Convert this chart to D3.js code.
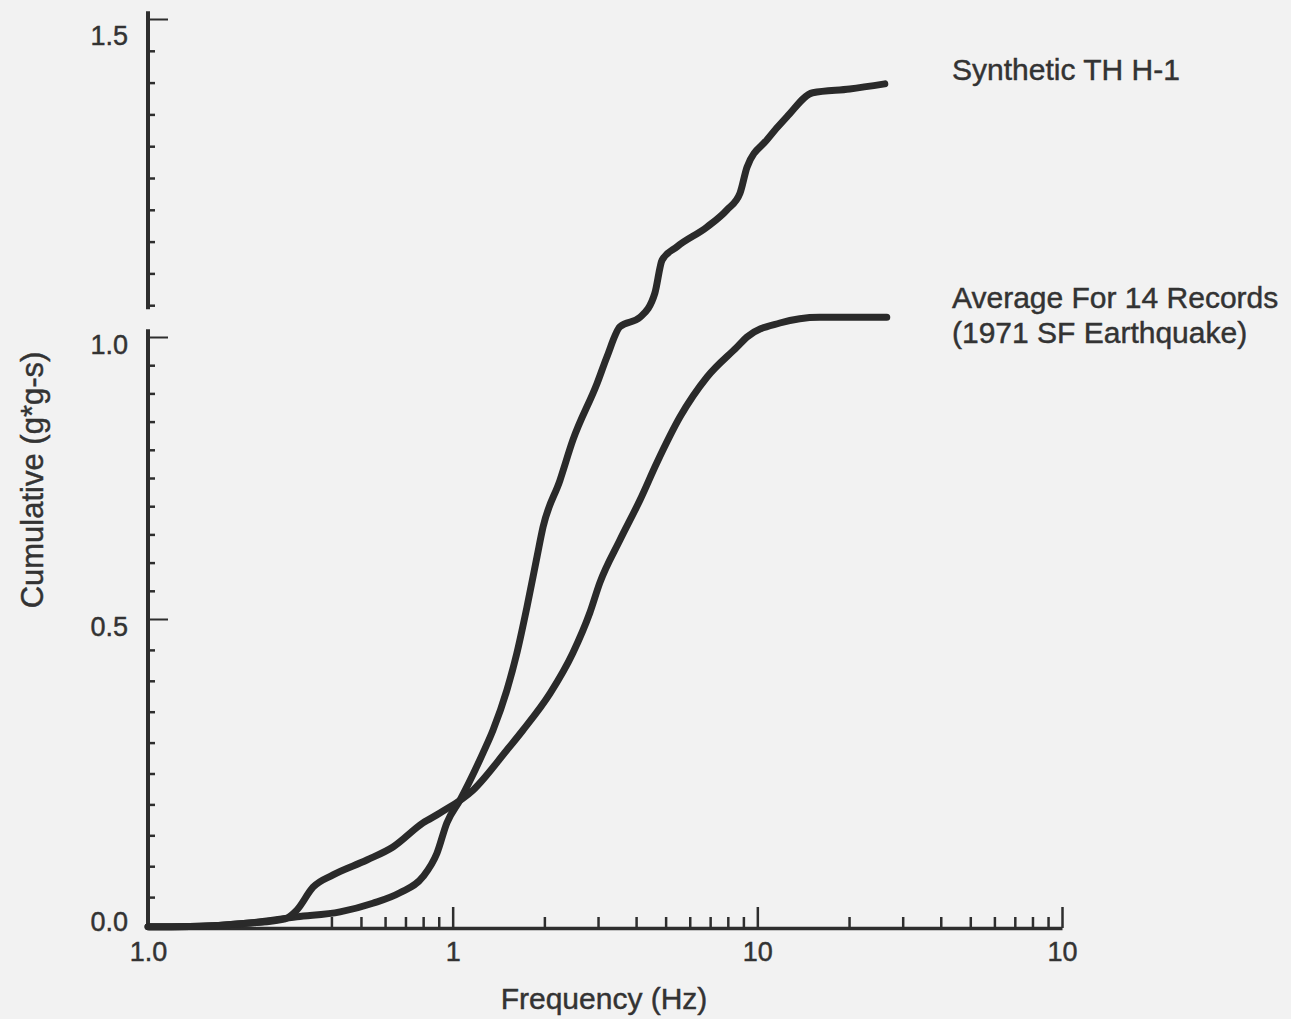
<!DOCTYPE html>
<html lang="en">
<head>
    <meta charset="UTF-8">
    <script src="https://d3js.org/d3.v7.min.js"></script>
    <title>Cumulative</title>
    <style>
        body { margin: 0; background: #f2f2f2; }
        text { font-family: "Liberation Sans", Arial, sans-serif; fill: #333; stroke: #333; stroke-width: 0.45px; }
    </style>
</head>
<body>
<div id="viz"></div>
<script>
    // data: [frequency (Hz), cumulative (g*g-s)]
    const synthetic = [
        [0.1, 0.002], [0.148, 0.003], [0.216, 0.008], [0.308, 0.018], [0.427, 0.026],
        [0.547, 0.040], [0.671, 0.057], [0.799, 0.083], [0.888, 0.121], [0.957, 0.170],
        [1.057, 0.207], [1.257, 0.283], [1.356, 0.320], [1.507, 0.385], [1.625, 0.445],
        [1.753, 0.521], [1.891, 0.610], [1.98, 0.663], [2.25, 0.746], [2.48, 0.817],
        [2.98, 0.918], [3.21, 0.965], [3.54, 1.016], [4.12, 1.031], [4.61, 1.069],
        [4.87, 1.121], [5.45, 1.142], [6.84, 1.173], [7.95, 1.200], [8.77, 1.226],
        [9.25, 1.267], [10.75, 1.310], [12.5, 1.346], [15.2, 1.384], [20.1, 1.390],
        [26.2, 1.398]
    ];
    const average = [
        [0.1, 0.002], [0.148, 0.003], [0.216, 0.008], [0.282, 0.015], [0.308, 0.029],
        [0.348, 0.066], [0.405, 0.086], [0.523, 0.110], [0.637, 0.131], [0.799, 0.170],
        [0.908, 0.186], [1.166, 0.223], [1.507, 0.288], [1.70, 0.320], [2.09, 0.380],
        [2.48, 0.445], [2.82, 0.511], [3.04, 0.564], [3.54, 0.640], [4.12, 0.711],
        [4.68, 0.777], [5.57, 0.858], [6.84, 0.929], [8.57, 0.982], [9.25, 1.000],
        [11.86, 1.022], [16.0, 1.031], [26.6, 1.031]
    ];

    const xMajor = [0.1, 1, 10, 100];
    const xTickLabels = ["1.0", "1", "10", "10"];   // as printed on the original
    const xMinor = [2, 3, 4, 5, 6, 7, 8, 9, 20, 30, 40, 50, 60, 70, 80, 90, 0.4, 0.5, 0.6, 0.7, 0.8, 0.9];
    const yMajor = [0, 0.5, 1.0, 1.5];
    const yTickLabels = ["0.0", "0.5", "1.0", "1.5"];
    const yMinor = d3.range(1, 30).map(i => i * 0.05).filter(v => Math.abs(v % 0.5) > 0.01 && Math.abs(v % 0.5 - 0.5) > 0.01);

    const width = 1291, height = 1019;

    const svg = d3.select("#viz")
        .append("svg")
        .attr("width", width)
        .attr("height", height);

    svg.append("rect").attr("width", width).attr("height", height).attr("fill", "#f2f2f2");

    // log frequency axis
    const x = d3.scaleLog()
        .domain([0.1, 100])
        .range([148, 1062]);

    // the scan is slightly uneven, so the value axis is piecewise
    const y = d3.scaleLinear()
        .domain([0, 0.5, 1.0, 1.5])
        .range([928, 619, 337, 19]);

    const ink = "#2e2e2e";

    // x axis: major ticks
    const gx = svg.append("g")
        .attr("transform", `translate(0, ${y(0)})`)
        .call(d3.axisBottom(x).tickValues(xMajor).tickSize(-21).tickSizeOuter(0)
            .tickFormat((d, i) => xTickLabels[i]).tickPadding(14));
    gx.select(".domain").attr("stroke", ink).attr("stroke-width", 3.5);
    gx.selectAll(".tick line").attr("stroke", ink).attr("stroke-width", 2.5);
    gx.selectAll(".tick text").style("font-size", "27px").attr("fill", "#333");

    // x axis: minor ticks
    const gxm = svg.append("g")
        .attr("transform", `translate(0, ${y(0)})`)
        .call(d3.axisBottom(x).tickValues(xMinor).tickSize(-11).tickFormat(""));
    gxm.select(".domain").remove();
    gxm.selectAll(".tick line").attr("stroke", ink).attr("stroke-width", 2.5);

    // y axis: major ticks
    const gy = svg.append("g")
        .attr("transform", `translate(${x(0.1)}, 0)`)
        .call(d3.axisLeft(y).tickValues(yMajor).tickSize(-20)
            .tickFormat((d, i) => yTickLabels[i]).tickPadding(20));
    gy.select(".domain").remove();
    gy.selectAll(".tick line").attr("stroke", ink).attr("stroke-width", 2);
    gy.selectAll(".tick text").style("font-size", "27px").attr("fill", "#333")
        .attr("dy", d => d === 1.5 ? "0.95em" : (d === 0 ? "0.1em" : "0.6em"));

    // y axis: minor ticks
    const gym = svg.append("g")
        .attr("transform", `translate(${x(0.1)}, 0)`)
        .call(d3.axisLeft(y).tickValues(yMinor).tickSize(-7).tickFormat(""));
    gym.select(".domain").remove();
    gym.selectAll(".tick line").attr("stroke", ink).attr("stroke-width", 2.5);

    // y axis line, broken just above 1.0
    const breaks = [[0, 1.012], [1.046, 1.512]];
    svg.selectAll(".yseg")
        .data(breaks)
        .join("line")
        .attr("class", "yseg")
        .attr("x1", x(0.1)).attr("x2", x(0.1))
        .attr("y1", d => y(d[0]) + 1.5)
        .attr("y2", d => y(d[1]))
        .attr("stroke", ink)
        .attr("stroke-width", 4);

    // curves
    const line = d3.line()
        .x(d => x(d[0]))
        .y(d => y(d[1]))
        .curve(d3.curveMonotoneX);

    svg.selectAll(".curve")
        .data([synthetic, average])
        .join("path")
        .attr("class", "curve")
        .attr("d", line)
        .attr("fill", "none")
        .attr("stroke", "#2a2a2a")
        .attr("stroke-width", 7)
        .attr("stroke-linecap", "round")
        .attr("stroke-linejoin", "round");

    // curve labels
    svg.append("text")
        .attr("x", 952).attr("y", 80)
        .style("font-size", "30px")
        .text("Synthetic TH H-1");
    svg.append("text")
        .attr("x", 952).attr("y", 308)
        .style("font-size", "30px")
        .text("Average For 14 Records");
    svg.append("text")
        .attr("x", 952).attr("y", 343)
        .style("font-size", "30px")
        .text("(1971 SF Earthquake)");

    // axis titles
    svg.append("text")
        .attr("x", 604).attr("y", 1009)
        .attr("text-anchor", "middle")
        .style("font-size", "30px")
        .text("Frequency (Hz)");
    svg.append("text")
        .attr("transform", "translate(43, 480) rotate(-90)")
        .attr("text-anchor", "middle")
        .style("font-size", "31px")
        .text("Cumulative (g*g-s)");
</script>
</body>
</html>
